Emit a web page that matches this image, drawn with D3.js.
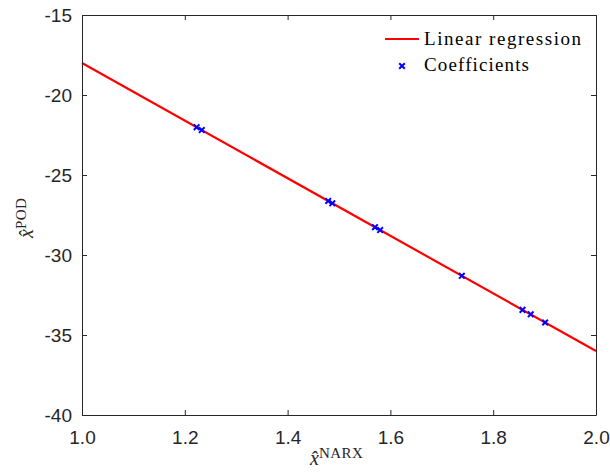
<!DOCTYPE html>
<html>
<head>
<meta charset="utf-8">
<script src="https://cdn.jsdelivr.net/npm/d3@7"></script>
<style>
  body { margin: 0; background: #fff; }
  svg { display: block; }
</style>
</head>
<body>
<div id="chart"></div>
<script>
// regression line end points
const lineX = [1.0, 2.0];
const lineY = [-18.0, -36.0];

// coefficient pairs
const coefX = [1.223, 1.233, 1.479, 1.487, 1.570, 1.580, 1.739, 1.857, 1.873, 1.901];
const coefY = [-22.01, -22.19, -26.62, -26.77, -28.26, -28.44, -31.30, -33.43, -33.71, -34.22];

const xTicks = [1.0, 1.2, 1.4, 1.6, 1.8, 2.0];
const yTicks = [-40, -35, -30, -25, -20, -15];

const width = 610, height = 474;
const margin = { left: 82, right: 14, top: 15, bottom: 59 };
const axisColor = "#262626";

let svg = d3.select("#chart").append("svg")
  .attr("width", width)
  .attr("height", height);

let x = d3.scaleLinear().domain([1.0, 2.0]).range([margin.left, width - margin.right]);
let y = d3.scaleLinear().domain([-40, -15]).range([height - margin.bottom, margin.top]);

// regression line
let lineData = lineX.map((v, i) => [v, lineY[i]]);
svg.append("path")
  .attr("d", d3.line().x(d => x(d[0])).y(d => y(d[1]))(lineData))
  .attr("fill", "none")
  .attr("stroke", "#ff0000")
  .attr("stroke-width", 2.2);

// coefficient markers (x shape)
let pts = coefX.map((v, i) => [v, coefY[i]]);
let ms = 2.8;
svg.selectAll(".coef").data(pts).enter().append("path")
  .attr("class", "coef")
  .attr("d", d => {
    let cx = x(d[0]), cy = y(d[1]);
    return "M" + (cx - ms) + "," + (cy - ms) + "L" + (cx + ms) + "," + (cy + ms)
      + "M" + (cx - ms) + "," + (cy + ms) + "L" + (cx + ms) + "," + (cy - ms);
  })
  .attr("stroke", "#0000ff")
  .attr("stroke-width", 2);

// axes with inward ticks, box on
let fontTick = "19px 'Liberation Sans', Arial, sans-serif";
let bottomAxis = svg.append("g")
  .attr("transform", "translate(0," + y(-40) + ")")
  .call(d3.axisBottom(x).tickValues(xTicks).tickFormat(d3.format(".1f")).tickSizeInner(-5).tickSizeOuter(0).tickPadding(16));
let topAxis = svg.append("g")
  .attr("transform", "translate(0," + y(-15) + ")")
  .call(d3.axisTop(x).tickValues(xTicks).tickFormat("").tickSizeInner(-5).tickSizeOuter(0));
let leftAxis = svg.append("g")
  .attr("transform", "translate(" + x(1.0) + ",0)")
  .call(d3.axisLeft(y).tickValues(yTicks).tickFormat(d => String(d)).tickSizeInner(-5).tickSizeOuter(0).tickPadding(10));
let rightAxis = svg.append("g")
  .attr("transform", "translate(" + x(2.0) + ",0)")
  .call(d3.axisRight(y).tickValues(yTicks).tickFormat("").tickSizeInner(-5).tickSizeOuter(0));

for (let g of [bottomAxis, topAxis, leftAxis, rightAxis]) {
  g.select(".domain").attr("stroke", axisColor).attr("stroke-width", 1);
  g.selectAll(".tick line").attr("stroke", axisColor).attr("stroke-width", 1);
  g.selectAll(".tick text").attr("fill", axisColor).style("font", fontTick);
}

// axis labels (latex-like)
let serif = "'Liberation Serif', 'Times New Roman', serif";
let xl = svg.append("text")
  .attr("x", 310)
  .attr("y", 465)
  .style("font-family", serif)
  .attr("fill", axisColor);
xl.append("tspan").style("font-size", "20px").style("font-style", "italic").text("x̂");
xl.append("tspan").attr("dy", -7).style("font-size", "15px").attr("textLength", 44).text("NARX");

let yl = svg.append("text")
  .attr("transform", "translate(33,238) rotate(-90)")
  .style("font-family", serif)
  .attr("fill", axisColor);
yl.append("tspan").style("font-size", "20px").style("font-style", "italic").text("x̂");
yl.append("tspan").attr("dy", -7).style("font-size", "15px").attr("textLength", 31).text("POD");

// legend
let legendFont = "19px " + serif;
svg.append("line")
  .attr("x1", 385).attr("x2", 419)
  .attr("y1", 39).attr("y2", 39)
  .attr("stroke", "#ff0000")
  .attr("stroke-width", 2.2);
svg.append("text")
  .attr("x", 424).attr("y", 45)
  .style("font", legendFont)
  .attr("textLength", 157)
  .attr("fill", "#000")
  .text("Linear regression");
svg.append("path")
  .attr("d", "M" + (402 - ms) + "," + (66 - ms) + "L" + (402 + ms) + "," + (66 + ms)
    + "M" + (402 - ms) + "," + (66 + ms) + "L" + (402 + ms) + "," + (66 - ms))
  .attr("stroke", "#0000ff")
  .attr("stroke-width", 2);
svg.append("text")
  .attr("x", 424).attr("y", 71)
  .style("font", legendFont)
  .attr("textLength", 105)
  .attr("fill", "#000")
  .text("Coefficients");
</script>
</body>
</html>
